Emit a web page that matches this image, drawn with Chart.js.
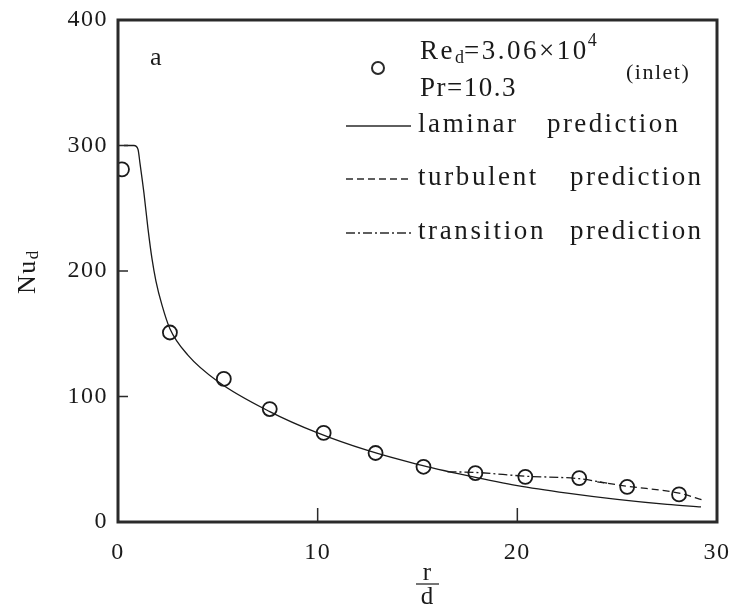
<!DOCTYPE html>
<html>
<head>
<meta charset="utf-8">
<script src="https://cdn.jsdelivr.net/npm/chart.js@4.4.1/dist/chart.umd.min.js"></script>
<style>
  html, body { margin: 0; padding: 0; background: #fff; }
  #wrap { width: 730px; height: 612px; }
</style>
</head>
<body>
<div id="wrap"><canvas id="nuChart" width="730" height="612"></canvas></div>
<script>
// measured points (circles)
const measuredRd = [0.2, 2.6, 5.3, 7.6, 10.3, 12.9, 15.3, 17.9, 20.4, 23.1, 25.5, 28.1];
const measuredNu = [281, 151, 114, 90, 71, 55, 44, 39, 36, 35, 28, 22];

// laminar prediction (solid)
const laminarRd = [0.3, 0.8, 1.0, 1.1, 1.3, 1.5, 1.7, 1.9, 2.2, 2.6, 3.5, 5, 7.6, 10, 12.5, 15, 17.5, 20, 22.5, 25, 27.5, 29.2];
const laminarNu = [300, 300, 297, 286, 262, 234, 210, 192, 173, 154, 133, 112, 88, 71, 57, 46, 37, 29, 23, 18, 14, 12];

// transition prediction (dash-dot)
const transitionRd = [16.5, 17.9, 20.4, 23.1, 24.5];
const transitionNu = [40, 39.5, 36.5, 34.5, 31];

// turbulent prediction (dashed)
const turbulentRd = [24.0, 25.5, 28.1, 29.3];
const turbulentNu = [32, 28.5, 23, 17.5];

const xTicks = [0, 10, 20, 30];
const yTicks = [0, 100, 200, 300, 400];

const SERIF = "'Liberation Serif', 'DejaVu Serif', serif";
const INK = "#1a1a1a";

function pts(xs, ys) {
  return xs.map((x, i) => ({ x, y: ys[i] }));
}

function text(ctx, str, x, y, size, opts = {}) {
  ctx.font = `${size}px ${SERIF}`;
  ctx.textAlign = opts.align || "left";
  ctx.textBaseline = "middle";
  ctx.letterSpacing = (opts.spacing ?? 2) + "px";
  ctx.fillText(str, x, y);
  return ctx.measureText(str).width;
}

const decor = {
  id: "decor",
  beforeDraw(chart) {
    chart.ctx.letterSpacing = "1.5px";
  },
  afterDraw(chart) {
    const ctx = chart.ctx;
    const a = chart.chartArea;
    const xs = chart.scales.x;
    const ys = chart.scales.y;
    ctx.save();
    ctx.fillStyle = INK;
    ctx.strokeStyle = "#2a2a2a";

    // frame
    ctx.lineWidth = 3;
    ctx.strokeRect(a.left, a.top, a.right - a.left, a.bottom - a.top);

    // inward ticks
    ctx.lineWidth = 1.5;
    ctx.beginPath();
    for (const v of [100, 200, 300]) {
      const py = ys.getPixelForValue(v);
      ctx.moveTo(a.left, py);
      ctx.lineTo(a.left + 10, py);
    }
    for (const v of [10, 20]) {
      const px = xs.getPixelForValue(v);
      ctx.moveTo(px, a.bottom);
      ctx.lineTo(px, a.bottom - 14);
    }
    ctx.stroke();

    // panel letter
    text(ctx, "a", 150, 58, 26, { spacing: 0 });

    // legend: circle + conditions
    ctx.lineWidth = 2;
    ctx.beginPath();
    ctx.arc(378, 68, 6, 0, Math.PI * 2);
    ctx.stroke();

    let x = 420;
    x += text(ctx, "Re", x, 52, 27, { spacing: 2.5 });
    x += text(ctx, "d", x, 58, 18, { spacing: 0 });
    x += text(ctx, "=3.06×10", x, 52, 27, { spacing: 2.5 });
    text(ctx, "4", x - 1, 41, 18, { spacing: 0 });
    text(ctx, "Pr=10.3", 420, 89, 27, { spacing: 1.5 });
    text(ctx, "(inlet)", 626, 73, 22, { spacing: 1.5 });

    // legend lines
    const rows = [
      { y: 126, dash: [], name: "laminar", px: 547 },
      { y: 179, dash: [7, 4], name: "turbulent", px: 570 },
      { y: 233, dash: [9, 3, 2, 3], name: "transition", px: 570 },
    ];
    ctx.lineWidth = 1.3;
    for (const r of rows) {
      ctx.setLineDash(r.dash);
      ctx.beginPath();
      ctx.moveTo(346, r.y);
      ctx.lineTo(411, r.y);
      ctx.stroke();
      ctx.setLineDash([]);
      text(ctx, r.name, 418, r.y - 1, 27, { spacing: 2.6 });
      text(ctx, "prediction", r.px, r.y - 1, 27, { spacing: 2.4 });
    }

    // y title Nu_d
    ctx.save();
    ctx.translate(28, 270);
    ctx.rotate(-Math.PI / 2);
    let t = -24;
    t += text(ctx, "Nu", t, 0, 26, { spacing: 1.5 });
    text(ctx, "d", t, 6, 17, { spacing: 0 });
    ctx.restore();

    // x title r/d
    text(ctx, "r", 427, 573, 25, { align: "center", spacing: 0 });
    ctx.lineWidth = 1.3;
    ctx.beginPath();
    ctx.moveTo(416, 584);
    ctx.lineTo(439, 584);
    ctx.stroke();
    text(ctx, "d", 427, 597, 25, { align: "center", spacing: 0 });

    ctx.restore();
  },
};

const lineStyle = {
  showLine: true,
  pointRadius: 0,
  borderColor: INK,
  borderWidth: 1.3,
  fill: false,
  cubicInterpolationMode: "monotone",
};

new Chart(document.getElementById("nuChart"), {
  type: "scatter",
  data: {
    datasets: [
      { label: "laminar prediction", data: pts(laminarRd, laminarNu), ...lineStyle },
      { label: "transition prediction", data: pts(transitionRd, transitionNu), ...lineStyle, borderDash: [9, 3, 2, 3] },
      { label: "turbulent prediction", data: pts(turbulentRd, turbulentNu), ...lineStyle, borderDash: [7, 4] },
      {
        label: "measured",
        data: pts(measuredRd, measuredNu),
        showLine: false,
        pointStyle: "circle",
        pointRadius: 7,
        pointBorderWidth: 1.8,
        pointBackgroundColor: "#fff",
        pointBorderColor: INK,
      },
    ],
  },
  options: {
    responsive: false,
    animation: false,
    devicePixelRatio: 1,
    layout: { padding: { top: 20, right: 13, bottom: 0, left: 0 } },
    plugins: { legend: { display: false }, tooltip: { enabled: false } },
    scales: {
      x: {
        type: "linear",
        min: 0,
        max: 30,
        afterBuildTicks(scale) {
          scale.ticks = xTicks.map((value) => ({ value }));
        },
        afterFit(scale) {
          scale.height = 90;
          scale.paddingLeft = 0;
          scale.paddingRight = 0;
        },
        grid: { display: false },
        border: { display: false },
        ticks: {
          color: INK,
          padding: 8,
          maxRotation: 0,
          font: { family: SERIF, size: 24 },
        },
      },
      y: {
        type: "linear",
        min: 0,
        max: 400,
        afterBuildTicks(scale) {
          scale.ticks = yTicks.map((value) => ({ value }));
        },
        afterFit(scale) {
          scale.width = 118;
        },
        grid: { display: false },
        border: { display: false },
        ticks: {
          color: INK,
          padding: 2,
          font: { family: SERIF, size: 24 },
        },
      },
    },
  },
  plugins: [decor],
});
</script>
</body>
</html>
